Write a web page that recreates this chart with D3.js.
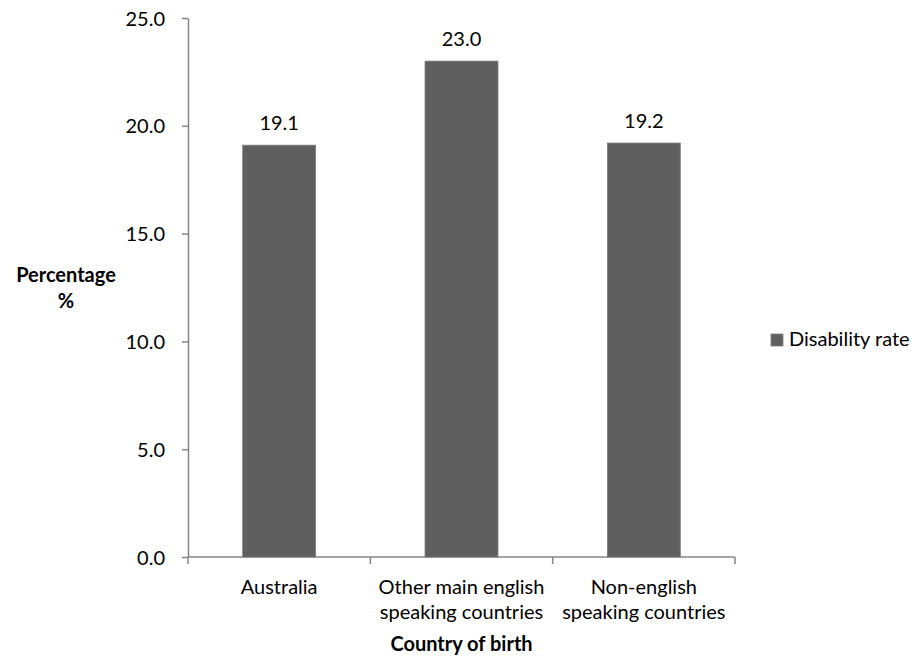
<!DOCTYPE html>
<html>
<head>
<meta charset="utf-8">
<script src="https://cdn.jsdelivr.net/npm/d3@7"></script>
<style>
  body { margin: 0; background: #fff; }
  svg text { font-family: Lato, "Open Sans", sans-serif; fill: #000; font-size: 20px; }
</style>
</head>
<body>
<svg id="chart" width="917" height="659"></svg>
<script>
// Disability rate by country of birth
const categories = [
  ["Australia"],
  ["Other main english", "speaking countries"],
  ["Non-english", "speaking countries"]
];
const categoryKeys = ["Australia", "Other main english speaking countries", "Non-english speaking countries"];
const disabilityRate = [19.1, 23.0, 19.2];
const yTicks = [0, 5, 10, 15, 20, 25];
const seriesName = "Disability rate";

const svg = d3.select("#chart");
const plotLeft = 188, plotRight = 735, plotTop = 18, plotBottom = 557;

const x = d3.scaleBand().domain(categoryKeys).range([plotLeft, plotRight]).paddingInner(0.6).paddingOuter(0.3);
const y = d3.scaleLinear().domain([0, 25]).range([plotBottom, plotTop]);

const axisColor = "#868686";
const barColor = "#5f5f5f";

// Y axis
const yAxis = svg.append("g").attr("transform", `translate(${plotLeft},0)`)
  .call(d3.axisLeft(y).tickValues(yTicks).tickSize(6).tickSizeOuter(0).tickFormat(d3.format(".1f")));
yAxis.select(".domain").attr("stroke", axisColor).attr("stroke-width", 1.5);
yAxis.selectAll(".tick line").attr("stroke", axisColor).attr("stroke-width", 1.5);
yAxis.selectAll(".tick text").attr("x", -23).attr("dy", "0.35em")
  .style("font-size", "20px").style("fill", "#000").attr("font-family", null);

// X axis: boundary ticks between categories
const bounds = [plotLeft].concat(categoryKeys.map(k => x(k) + x.bandwidth() / 2 + x.step() / 2));
bounds[bounds.length - 1] = plotRight;
svg.append("line").attr("x1", plotLeft).attr("x2", plotRight).attr("y1", plotBottom).attr("y2", plotBottom)
  .attr("stroke", axisColor).attr("stroke-width", 1.5);
svg.selectAll(".xtick").data(bounds).enter().append("line")
  .attr("x1", d => d).attr("x2", d => d).attr("y1", plotBottom).attr("y2", plotBottom + 7)
  .attr("stroke", axisColor).attr("stroke-width", 1.5);

// Bars
svg.selectAll(".bar").data(disabilityRate).enter().append("rect")
  .attr("x", (d, i) => x(categoryKeys[i]))
  .attr("width", x.bandwidth())
  .attr("y", d => y(d))
  .attr("height", d => y(0) - y(d))
  .attr("fill", barColor)
  .attr("stroke", "#7a7a7a").attr("stroke-width", 0.8);

// Value labels
svg.selectAll(".val").data(disabilityRate).enter().append("text")
  .attr("x", (d, i) => x(categoryKeys[i]) + x.bandwidth() / 2)
  .attr("y", d => y(d) - 15)
  .attr("text-anchor", "middle")
  .text(d => d.toFixed(1));

// Category labels
categories.forEach((lines, i) => {
  const cx = x(categoryKeys[i]) + x.bandwidth() / 2;
  lines.forEach((t, j) => {
    svg.append("text").attr("x", cx).attr("y", 594 + j * 25)
      .attr("text-anchor", "middle").text(t);
  });
});

// Axis titles
svg.append("text").attr("x", (plotLeft + plotRight) / 2).attr("y", 651)
  .attr("text-anchor", "middle").style("font-weight", "bold")
  .text("Country of birth");
svg.append("text").attr("x", 66).attr("y", 282)
  .attr("text-anchor", "middle").style("font-weight", "bold")
  .text("Percentage");
svg.append("text").attr("x", 66).attr("y", 308)
  .attr("text-anchor", "middle").style("font-weight", "bold")
  .text("%");

// Legend
const lg = svg.append("g").attr("transform", "translate(771,334)");
lg.append("rect").attr("width", 12).attr("height", 12).attr("fill", barColor).attr("stroke", "#7a7a7a").attr("stroke-width", 0.8);
lg.append("text").attr("x", 18).attr("y", 12).text(seriesName);
</script>
</body>
</html>
